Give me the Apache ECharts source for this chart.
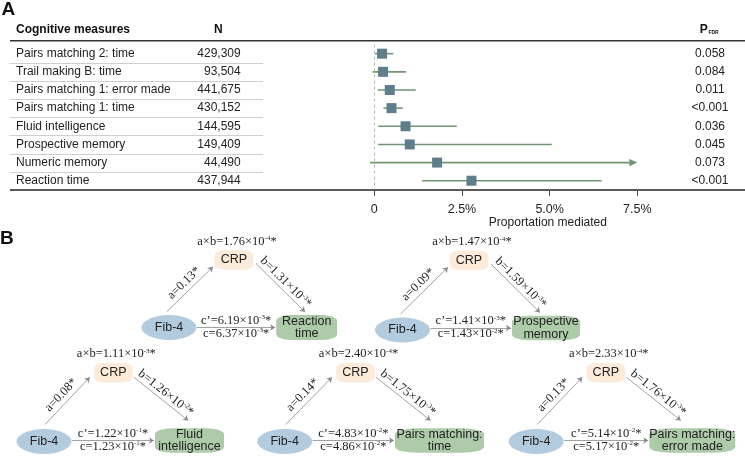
<!DOCTYPE html>
<html><head><meta charset="utf-8">
<script src="https://cdn.jsdelivr.net/npm/echarts@6/dist/echarts.min.js"></script>
<style>html,body{margin:0;padding:0;background:#fff}#c{width:745px;height:459px}</style>
</head><body><div id="c"></div>
<script>
// ---------- Panel A data ----------
const measures = ['Pairs matching 2: time','Trail making B: time','Pairs matching 1: error made','Pairs matching 1: time','Fluid intelligence','Prospective memory','Numeric memory','Reaction time'];
const nLabels = ['429,309','93,504','441,675','430,152','144,595','149,409','44,490','437,944'];
const pLabels = ['0.058','0.084','0.011','<0.001','0.036','0.045','0.073','<0.001'];
const estimate = [0.22,0.25,0.44,0.49,0.89,1.01,1.79,2.77];
const ciLow = [0.02,-0.05,0.10,0.26,0.11,0.11,-0.12,1.36];
const ciHigh = [0.54,0.90,1.18,0.81,2.35,5.06,7.5,6.48];
const ciTruncated = [0,0,0,0,0,0,1,0];
const xTicks = [0, 2.5, 5, 7.5];

// ---------- Panel B data ----------
const outcomes = ['Reaction\ntime','Prospective\nmemory','Fluid\nintelligence','Pairs matching:\ntime','Pairs matching:\nerror made'];
const aVals = ['0.13','0.09','0.08','0.14','0.13'];
const bVals = [['1.31','3'],['1.59','3'],['1.26','2'],['1.75','3'],['1.76','3']];
const abVals = [['1.76','4'],['1.47','4'],['1.11','3'],['2.40','4'],['2.33','4']];
const cpVals = [['6.19','3'],['1.41','3'],['1.22','1'],['4.83','2'],['5.14','2']];
const cVals = [['6.37','3'],['1.43','2'],['1.23','1'],['4.86','2'],['5.17','2']];

// ---------- Diagram layout (pixels) ----------
const topRow = {aS:[-2,-16], aE:[-21,6.8], bS:[22,3.5], bE:[71,-15.5]};
const botRow = {aS:[1,-17], aE:[-23.5,4.6], bS:[20.5,4.5], bE:[75,-20]};
const diagLayout = [
  {fib:[169,327.5], crp:[234,260], out:[306.7,327.5], outW:61, outH:25, row:topRow},
  {fib:[402.5,330], crp:[469,260.5], out:[546,328], outW:68, outH:24.5, row:topRow},
  {fib:[44,441.5], crp:[113.3,372.7], out:[189.5,440.5], outW:69, outH:24.5, row:botRow},
  {fib:[284.7,441.5], crp:[355.5,372.7], out:[439.5,440.5], outW:89, outH:24.5, row:botRow},
  {fib:[536.2,441.5], crp:[605.8,372.7], out:[692.3,440.5], outW:86, outH:24.5, row:botRow}
];

const sans = 'Liberation Sans';
const serif = 'Liberation Serif';
const ciColor = '#719571';
const sqColor = '#607D8B';

const sci = (v) => v[0] + '×10}{s|-' + v[1] + '}{t|*';
const ellipse = 'path://M0,1a1,1 0 1,0 2,0a1,1 0 1,0 -2,0z';

const nodes = [], links = [];
diagLayout.forEach((L, k) => {
  const R = L.row;
  nodes.push({name:'fib'+k, value:L.fib, symbol:ellipse, symbolSize:[55,25], itemStyle:{color:'#B3CBDE'},
    label:{show:true, position:'inside', formatter:'Fib-4'}});
  nodes.push({name:'crp'+k, value:L.crp, symbol:'roundRect', symbolSize:[38.5,19.5], itemStyle:{color:'#FCEBD9'},
    label:{show:true, position:'inside', formatter:'CRP'}});
  nodes.push({name:'out'+k, value:L.out, symbol:'roundRect', symbolSize:[L.outW,L.outH], itemStyle:{color:'#AECBA9'},
    label:{show:true, position:'inside', formatter:outcomes[k]}});
  nodes.push({name:'ab'+k, value:[L.crp[0]+3, L.crp[1]-18.5], symbolSize:1, itemStyle:{color:'rgba(0,0,0,0)'},
    label:{show:true, position:'inside', formatter:() => '{t|a×b=' + sci(abVals[k]) + '}'}});
  const pts = {
    aS:[L.fib[0]+R.aS[0], L.fib[1]+R.aS[1]],
    aE:[L.crp[0]+R.aE[0], L.crp[1]+R.aE[1]],
    bS:[L.crp[0]+R.bS[0], L.crp[1]+R.bS[1]],
    bE:[L.crp[0]+R.bE[0], L.out[1]+R.bE[1]],
    cS:[L.fib[0]+28, L.out[1]],
    cE:[L.out[0]-L.outW/2-1, L.out[1]]
  };
  Object.keys(pts).forEach(p => nodes.push({name:p+k, value:pts[p], symbolSize:0.01, itemStyle:{color:'rgba(0,0,0,0)'}, label:{show:false}}));
  links.push({source:'aS'+k, target:'aE'+k, label:{show:true, position:'middle', distance:2,
    formatter:() => '{t|a=' + aVals[k] + '*}'}});
  links.push({source:'bS'+k, target:'bE'+k, label:{show:true, position:'middle', distance:1,
    formatter:() => '{t|b=' + sci(bVals[k]) + '}'}});
  links.push({source:'cS'+k, target:'cE'+k, label:{show:true, position:'middle', distance:[0,-12.5],
    formatter:() => '{t|c’=' + sci(cpVals[k]) + '}\n{t|c=' + sci(cVals[k]) + '}'}});
});

const richSerif = {
  t:{fontFamily:serif, fontSize:12.5, color:'#222', lineHeight:13},
  s:{fontFamily:serif, fontSize:7, color:'#222', verticalAlign:'top', lineHeight:8}
};

const catAxisBase = {type:'category', data:measures, inverse:true,
  axisLine:{show:false}, axisTick:{show:false}, splitLine:{show:false}};

const option = {
  animation:false,
  grid:[
    {left:10, top:44.6, width:253, height:145.2},
    {left:360.3, top:44.6, width:375.2, height:145.2},
    {left:0, top:0, width:745, height:459}
  ],
  xAxis:[
    {gridIndex:0, type:'value', min:0, max:1, show:false},
    {gridIndex:1, type:'value', min:-0.4, max:10.3,
      axisLine:{show:false}, splitLine:{show:false},
      axisTick:{show:true, customValues:xTicks, length:6, lineStyle:{color:'#444', width:1}},
      axisLabel:{customValues:xTicks, margin:13, fontFamily:sans, fontSize:12.5, color:'#222',
        formatter:v => v === 0 ? '0' : v.toFixed(1) + '%'},
      name:'Proportation mediated', nameLocation:'middle', nameGap:25,
      nameTextStyle:{fontFamily:sans, fontSize:12, color:'#222'}},
    {gridIndex:2, type:'value', min:0, max:745, show:false}
  ],
  yAxis:[
    Object.assign({}, catAxisBase, {gridIndex:0, position:'left',
      axisLabel:{interval:0, align:'left', margin:-6, fontFamily:sans, fontSize:12, color:'#222'}}),
    Object.assign({}, catAxisBase, {gridIndex:0, position:'right',
      axisLabel:{interval:0, align:'right', margin:-22.3, fontFamily:sans, fontSize:12, color:'#222',
        formatter:(v, i) => nLabels[i]}}),
    Object.assign({}, catAxisBase, {gridIndex:1, position:'right',
      axisLabel:{interval:0, align:'center', margin:-25.5, fontFamily:sans, fontSize:12, color:'#222',
        formatter:(v, i) => pLabels[i]}}),
    {gridIndex:2, type:'value', min:0, max:459, inverse:true, show:false}
  ],
  graphic:[
    {type:'text', x:1.5, y:10, style:{text:'A', font:'bold 19px ' + sans, fill:'#111', verticalAlign:'middle'}},
    {type:'text', x:0, y:238.5, style:{text:'B', font:'bold 19px ' + sans, fill:'#111', verticalAlign:'middle'}},
    {type:'text', x:16, y:29.2, style:{text:'Cognitive measures', font:'bold 12px ' + sans, fill:'#111', verticalAlign:'middle'}},
    {type:'text', x:218.3, y:29.2, style:{text:'N', font:'bold 12px ' + sans, fill:'#111', align:'center', verticalAlign:'middle'}},
    {type:'text', x:699.8, y:29.6, style:{text:'P', font:'bold 12px ' + sans, fill:'#111', verticalAlign:'middle'}},
    {type:'text', x:708.4, y:33, style:{text:'FDR', font:'bold 5px ' + sans, fill:'#111', verticalAlign:'middle'}},
    {type:'line', shape:{x1:10, y1:40.7, x2:745, y2:40.7}, style:{stroke:'#333', lineWidth:1.5}},
    {type:'line', shape:{x1:10, y1:190, x2:745, y2:190}, style:{stroke:'#5a5a5a', lineWidth:2}, z:10}
  ],
  series:[
    {type:'custom', xAxisIndex:0, yAxisIndex:0, silent:true,
      data:measures.slice(1).map((m, i) => [0, i + 1]),
      renderItem:(params, api) => {
        const p0 = api.coord([0, api.value(1)]);
        const p1 = api.coord([1, api.value(1)]);
        const h = api.size([0, 1])[1];
        const y = Math.round(p0[1] - h / 2) + 0.5;
        return {type:'line', shape:{x1:p0[0], y1:y, x2:p1[0], y2:y}, style:{stroke:'#cfcfcf', lineWidth:1}};
      }},
    {type:'custom', xAxisIndex:1, yAxisIndex:2, silent:true,
      data:measures.map((m, i) => [ciLow[i], ciHigh[i], i, ciTruncated[i]]),
      encode:{x:[0,1], y:2},
      renderItem:(params, api) => {
        const lo = api.coord([api.value(0), api.value(2)]);
        const hi = api.coord([api.value(1), api.value(2)]);
        const trunc = api.value(3) === 1;
        const ch = [{type:'line', shape:{x1:lo[0], y1:lo[1], x2:trunc ? hi[0]-6 : hi[0], y2:hi[1]},
          style:{stroke:ciColor, lineWidth:1.6}}];
        if (trunc) ch.push({type:'polygon', shape:{points:[[hi[0], hi[1]], [hi[0]-8, hi[1]-3.6], [hi[0]-8, hi[1]+3.6]]},
          style:{fill:ciColor}});
        return {type:'group', children:ch};
      }},
    {type:'scatter', xAxisIndex:1, yAxisIndex:2, symbol:'rect', symbolSize:10, z:5,
      itemStyle:{color:sqColor, opacity:1},
      data:estimate.map((v, i) => [v, i]),
      markLine:{silent:true, symbol:'none', label:{show:false},
        lineStyle:{color:'#bbbbbb', type:[3,3], width:1},
        data:[{xAxis:0}]}},
    {type:'graph', coordinateSystem:'cartesian2d', xAxisIndex:2, yAxisIndex:3, layout:'none',
      roam:false, emphasis:{disabled:true},
      edgeSymbol:['none','arrow'], edgeSymbolSize:[0,5],
      lineStyle:{color:'#8a8a8a', width:0.8, opacity:1, curveness:0},
      label:{show:false, fontFamily:sans, fontSize:12.5, color:'#222', lineHeight:12.6, rich:richSerif},
      edgeLabel:{show:false, rich:richSerif},
      data:nodes, links:links}
  ]
};
echarts.init(document.getElementById('c')).setOption(option);
</script></body></html>
